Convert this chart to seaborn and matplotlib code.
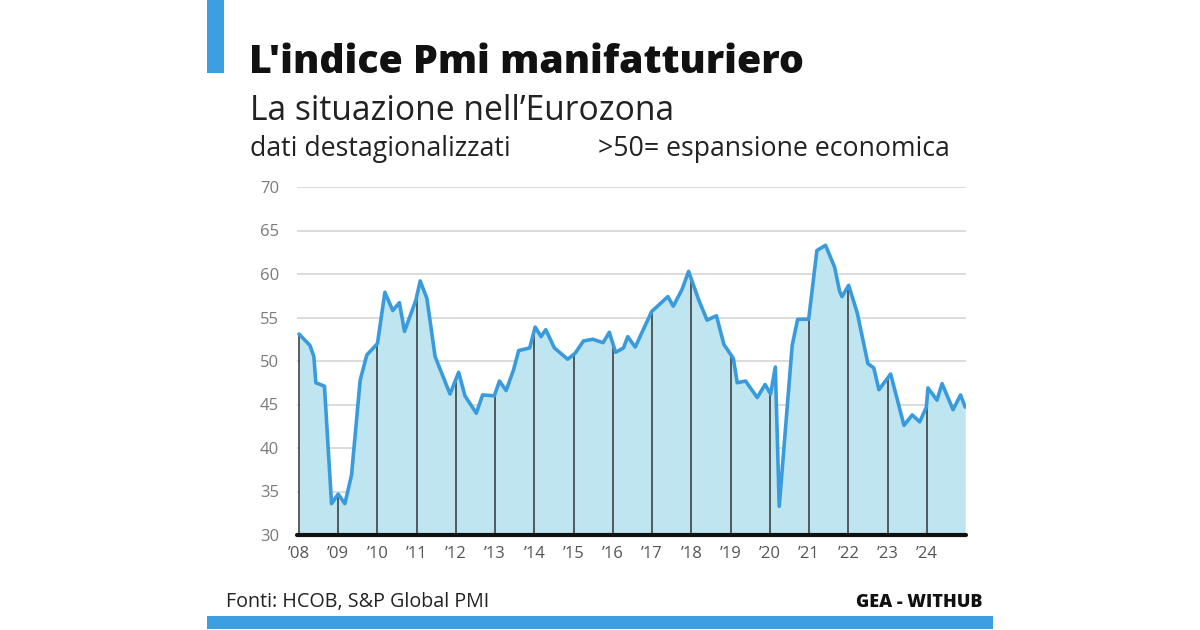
import numpy as np
import matplotlib
matplotlib.use("Agg")
import matplotlib.pyplot as plt
import seaborn as sns
from matplotlib.patches import Rectangle

# ---- data (decimal years, PMI values) ----
years = [2008.00, 2008.28, 2008.38, 2008.43, 2008.65, 2008.83, 2009.00, 2009.17, 2009.34,
         2009.56, 2009.73, 2010.00, 2010.19, 2010.39, 2010.56, 2010.69, 2010.98, 2011.09,
         2011.26, 2011.47, 2011.85, 2012.07, 2012.23, 2012.52, 2012.68, 2012.98, 2013.11,
         2013.28, 2013.47, 2013.60, 2013.88, 2014.02, 2014.17, 2014.29, 2014.51, 2014.85,
         2015.04, 2015.25, 2015.49, 2015.75, 2015.91, 2016.07, 2016.27, 2016.38, 2016.57,
         2016.99, 2017.21, 2017.40, 2017.54, 2017.76, 2017.93, 2018.19, 2018.40, 2018.64,
         2018.83, 2019.07, 2019.17, 2019.38, 2019.68, 2019.88, 2020.02, 2020.14, 2020.24,
         2020.57, 2020.71, 2020.99, 2021.20, 2021.42, 2021.65, 2021.78, 2021.84, 2022.01,
         2022.23, 2022.50, 2022.65, 2022.78, 2023.08, 2023.42, 2023.63, 2023.82, 2023.99,
         2024.03, 2024.26, 2024.39, 2024.67, 2024.86, 2024.98]
pmi = [53.1, 51.8, 50.5, 47.5, 47.1, 33.6, 34.7, 33.6, 36.9,
       47.8, 50.7, 52.0, 57.9, 55.8, 56.7, 53.4, 57.0, 59.2,
       57.2, 50.5, 46.2, 48.7, 46.0, 44.0, 46.1, 46.0, 47.7,
       46.6, 49.0, 51.2, 51.5, 53.9, 52.8, 53.6, 51.5, 50.2,
       50.9, 52.3, 52.5, 52.1, 53.3, 51.0, 51.5, 52.8, 51.6,
       55.7, 56.6, 57.4, 56.3, 58.2, 60.3, 57.0, 54.7, 55.2,
       51.9, 50.3, 47.5, 47.7, 45.8, 47.3, 46.2, 49.3, 33.3,
       51.8, 54.8, 54.8, 62.7, 63.3, 60.8, 58.0, 57.4, 58.7,
       55.5, 49.7, 49.2, 46.7, 48.5, 42.6, 43.8, 43.0, 44.7,
       46.9, 45.5, 47.4, 44.4, 46.1, 44.7]
tick_years = list(range(2008, 2025))
tick_labels = ["\u2019%02d" % (y % 100) for y in tick_years]
y_ticks = [30, 35, 40, 45, 50, 55, 60, 65, 70]

title = "L'indice Pmi manifatturiero"
subtitle = "La situazione nell\u2019Eurozona"
note_left = "dati destagionalizzati"
note_right = ">50= espansione economica"
source = "Fonti: HCOB, S&P Global PMI"
credit = "GEA - WITHUB"

# ---- style ----
sns.set_theme(style="white")
plt.rcParams["font.family"] = ["Open Sans", "DejaVu Sans"]

LINE = "#3a9bdc"
FILL = "#bfe5f0"
BLUE = "#3d9fe0"

W, H = 1200, 630
fig = plt.figure(figsize=(12, 6.3), dpi=100)
fig.patch.set_facecolor("white")

def fx(px):
    return px / W

def fy(py):
    return 1 - py / H

ax = fig.add_axes([fx(297), fy(535), fx(966) - fx(297), fy(187) - fy(535)])
ax.set_facecolor("white")

x = np.array(years)
y = np.array(pmi)

ax.fill_between(x, 30, y, color=FILL, lw=0, zorder=1)
# year verticals inside the area
vy = np.interp(tick_years, x, y)
ax.vlines(tick_years, 30, vy, color="#333333", lw=1.1, zorder=2)
sns.lineplot(x=x, y=y, ax=ax, color=LINE, lw=2.6, sort=False, zorder=4,
             estimator=None)
ax.lines[-1].set_solid_joinstyle("round")

ax.set_xlim(2007.95, 2025.0)
ax.set_ylim(30, 70)
ax.set_yticks(y_ticks)
ax.set_yticklabels([str(v) for v in y_ticks])
ax.set_xticks(tick_years)
ax.set_xticklabels(tick_labels)
ax.tick_params(axis="y", length=0, pad=13, labelsize=12, labelcolor="#7a7a7a")
ax.tick_params(axis="x", length=0, pad=8, labelsize=12, labelcolor="#555555")
for v in y_ticks[1:]:
    ax.axhline(v, color="#dcdcdc", lw=1.4, zorder=0)
ax.axhline(30, color="#111111", lw=3, zorder=5, clip_on=False)
for s in ax.spines.values():
    s.set_visible(False)
ax.set_xlabel("")
ax.set_ylabel("")

# ---- texts ----
fig.text(fx(249), fy(73), title, fontsize=28.3, fontweight="heavy", color="#111111",
         va="baseline", ha="left")
fig.text(fx(250), fy(120), subtitle, fontsize=24.2, fontweight="normal", color="#222222",
         va="baseline", ha="left")
fig.text(fx(250), fy(156), note_left, fontsize=19.3, color="#222222",
         va="baseline", ha="left")
fig.text(fx(598), fy(156), note_right, fontsize=19.2, color="#222222",
         va="baseline", ha="left")
fig.text(fx(226), fy(607), source, fontsize=14.2, fontweight="medium", color="#222222",
         va="baseline", ha="left")
fig.text(fx(982), fy(607), credit, fontsize=13, fontweight="heavy", color="#111111",
         va="baseline", ha="right")

# ---- decorative bars ----
fig.patches.append(Rectangle((fx(207), fy(73)), fx(224) - fx(207), fy(0) - fy(73),
                             transform=fig.transFigure, color=BLUE, lw=0))
fig.patches.append(Rectangle((fx(207), fy(629)), fx(993) - fx(207), fy(616) - fy(629),
                             transform=fig.transFigure, color=BLUE, lw=0))

fig.savefig("out.png", dpi=100, facecolor="white")
